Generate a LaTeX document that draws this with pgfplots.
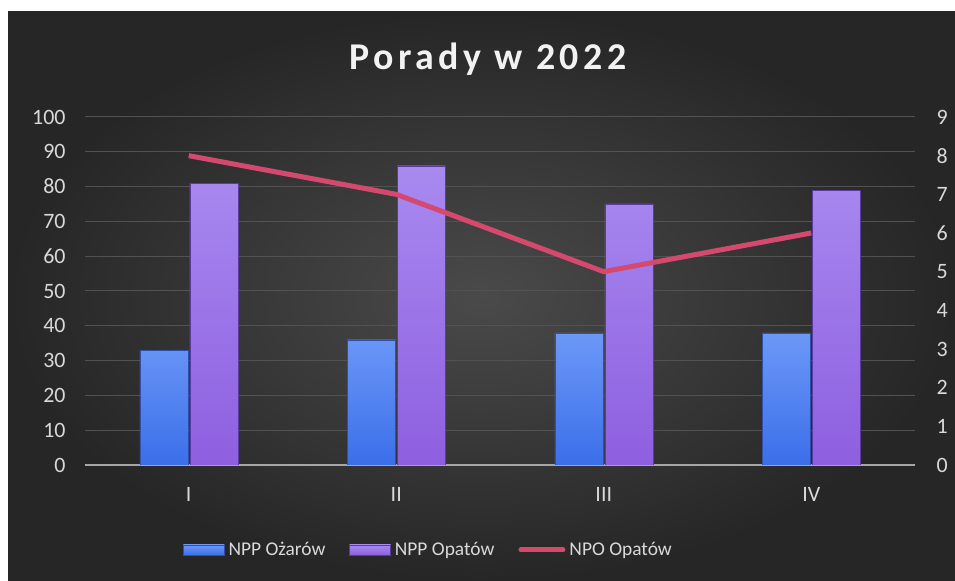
\documentclass[border=0pt]{standalone}
\usepackage{fontspec}
\setmainfont{Carlito}
\newfontfamily\titlefont[LetterSpace=12]{Carlito}
\usepackage{pgfplots}
\pgfplotsset{compat=1.18}
\definecolor{bgin}{HTML}{4A4A4A}
\definecolor{bgout}{HTML}{262626}
\definecolor{txt}{HTML}{D9D9D9}
\definecolor{gridc}{HTML}{525252}
\definecolor{axc}{HTML}{A6A6A6}
\definecolor{blueT}{HTML}{6C98F7}
\definecolor{blueB}{HTML}{3B6FEA}
\definecolor{blueE}{HTML}{2F4FA8}
\definecolor{purT}{HTML}{A88AF0}
\definecolor{purB}{HTML}{8E5FE0}
\definecolor{purE}{HTML}{5B3C9E}
\definecolor{linec}{HTML}{D6496F}
\begin{document}
\begin{tikzpicture}[x=1bp,y=1bp]
\useasboundingbox (0,0) rectangle (955,581);
\fill[white] (0,0) rectangle (955,581);
\shade[inner color=bgin, outer color=bgout] (8,0) rectangle (955,569);
\node[text=white!95!black, anchor=base] at (488,511) {\titlefont\fontsize{38}{44}\selectfont\bfseries Porady w 2022};
\begin{axis}[
  at={(85bp,116bp)}, anchor=south west,
  width=830bp, height=348bp, scale only axis,
  xmin=-0.5, xmax=3.5, ymin=0, ymax=100,
  ytick={0,10,...,100}, xtick={0,1,2,3}, xticklabels={I,II,III,IV},
  ybar=2bp, bar width=48bp,
  axis line style={draw=none}, major tick length=0,
  ymajorgrids, grid style={gridc, line width=1bp},
  extra y ticks={0}, extra y tick labels={},
  extra y tick style={grid style={axc, line width=2bp}},
  /pgf/number format/assume math mode=true,
  tick label style={text=txt, font=\fontsize{22}{25}\selectfont},
  yticklabel style={xshift=-16bp},
  xticklabel style={yshift=-19bp},
  legend columns=3,
  legend style={at={(rel axis cs:0.118,-0.244)}, anchor=west, draw=none, fill=none,
    text=txt, font=\fontsize{19.5}{23}\selectfont, inner sep=0pt,
    nodes={inner xsep=4bp},
    /tikz/every even column/.append style={column sep=20bp}},
  legend cell align=left,
]
\addplot[draw=blueE, top color=blueT, bottom color=blueB,
  legend image code/.code={\draw[draw=blueE, top color=blueT, bottom color=blueB] (0bp,-5bp) rectangle (41bp,5bp);}]
  coordinates {(0,33) (1,36) (2,38) (3,38)};
\addlegendentry{NPP Ożarów}
\addplot[draw=purE, top color=purT, bottom color=purB,
  legend image code/.code={\draw[draw=purE, top color=purT, bottom color=purB] (0bp,-5bp) rectangle (41bp,5bp);}]
  coordinates {(0,81) (1,86) (2,75) (3,79)};
\addlegendentry{NPP Opatów}
\addlegendimage{legend image code/.code={\draw[linec, line width=5bp, line cap=round] (2bp,0bp) -- (44bp,0bp);}}
\addlegendentry{NPO Opatów}
\end{axis}
\begin{axis}[
  at={(85bp,116bp)}, anchor=south west,
  width=830bp, height=348bp, scale only axis,
  xmin=-0.5, xmax=3.5, ymin=0, ymax=9,
  ytick={0,1,...,9},
  axis y line*=right, axis x line=none,
  axis line style={draw=none}, major tick length=0,
  /pgf/number format/assume math mode=true,
  tick label style={text=txt, font=\fontsize{22}{25}\selectfont},
  yticklabel style={xshift=18bp},
]
\addplot[linec, line width=5bp, mark=none] coordinates {(0,8) (1,7) (2,5) (3,6)};
\end{axis}
\end{tikzpicture}
\end{document}
